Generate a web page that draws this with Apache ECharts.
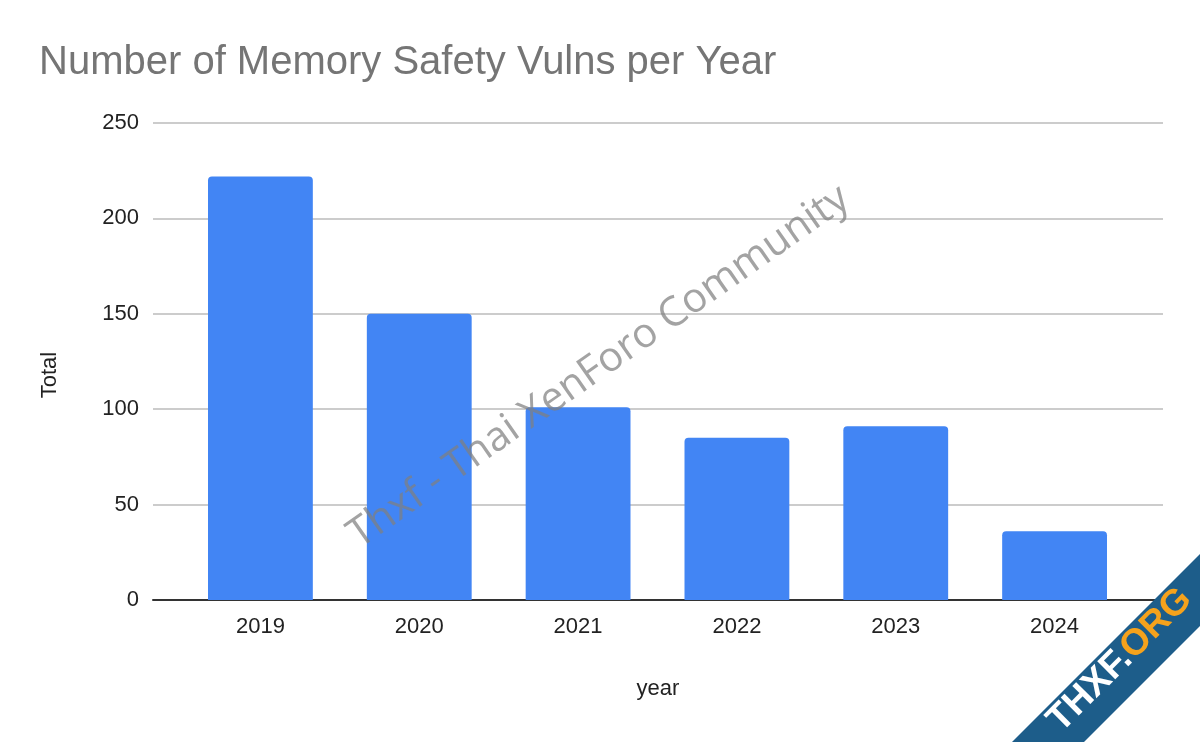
<!DOCTYPE html>
<html>
<head>
<meta charset="utf-8">
<script src="https://cdn.jsdelivr.net/npm/echarts@6/dist/echarts.min.js"></script>
<style>
  html, body { margin: 0; padding: 0; background: #fff; }
  #chart { width: 1200px; height: 742px; }
</style>
</head>
<body>
<div id="chart"></div>
<script>
// Memory safety vulnerabilities counted per year
const years = ['2019', '2020', '2021', '2022', '2023', '2024'];
const totals = [222, 150, 101, 85, 91, 36];
const yTicks = { min: 0, max: 250, step: 50 };

const chart = echarts.init(document.getElementById('chart'));
const FONT = '"Liberation Sans", Arial, sans-serif';
const TOP = 123, BOTTOM = 142;

chart.setOption({
  backgroundColor: '#ffffff',
  animation: false,
  title: {
    text: 'Number of Memory Safety Vulns per Year',
    left: 34, top: 38,
    textStyle: { fontFamily: FONT, fontSize: 40, fontWeight: 'normal', color: '#757575' }
  },
  grid: [
    // wide frame: gridlines and baseline
    { left: 153, right: 37, top: TOP, bottom: BOTTOM },
    // inner band holding the bars
    { left: 181, right: 66, top: TOP, bottom: BOTTOM }
  ],
  xAxis: [
    {
      gridIndex: 0, type: 'value', min: 0, max: 1,
      axisLine: { show: true, onZero: false, lineStyle: { color: '#333333', width: 2 } },
      axisTick: { show: false }, axisLabel: { show: false }, splitLine: { show: false },
      name: 'year', nameLocation: 'middle', nameGap: 78,
      nameTextStyle: { fontFamily: FONT, fontSize: 22, color: '#222222' }
    },
    {
      gridIndex: 1, type: 'category', data: years,
      axisLine: { show: false }, axisTick: { show: false },
      axisLabel: { fontFamily: FONT, fontSize: 22, color: '#222222', margin: 16 }
    }
  ],
  yAxis: [
    {
      gridIndex: 0, type: 'value', min: yTicks.min, max: yTicks.max, interval: yTicks.step,
      axisLine: { show: false }, axisTick: { show: false },
      axisLabel: { fontFamily: FONT, fontSize: 22, color: '#222222', margin: 14 },
      splitLine: { lineStyle: { color: '#cccccc', width: 2 } }
    },
    {
      gridIndex: 1, type: 'value', min: yTicks.min, max: yTicks.max, interval: yTicks.step,
      show: false
    }
  ],
  series: [
    {
      type: 'bar', xAxisIndex: 1, yAxisIndex: 1,
      data: totals, barWidth: '66%',
      itemStyle: { color: '#4285f4', borderRadius: [4, 4, 0, 0] },
      z: 3
    }
  ],
  graphic: [
    // vertical axis title
    {
      type: 'text', x: 50, y: 375, rotation: Math.PI / 2, z: 5,
      style: {
        text: 'Total', font: '22px "Liberation Sans", Arial, sans-serif',
        fill: '#222222', align: 'center', verticalAlign: 'middle'
      }
    },
    {
      type: 'text', x: 599, y: 367, rotation: 35 * Math.PI / 180, z: 10,
      style: {
        text: 'Thxf - Thai XenForo Community',
        font: '41px "Open Sans", "DejaVu Sans", sans-serif',
        fill: 'rgba(128,128,128,0.72)', align: 'center', verticalAlign: 'middle'
      }
    },
    {
      type: 'polygon', z: 10,
      shape: { points: [[1012, 742], [1200, 554], [1200, 626], [1084, 742]] },
      style: { fill: '#1d5d8a' }
    },
    {
      type: 'text', x: 1120, y: 660, rotation: 45 * Math.PI / 180, z: 11,
      style: {
        rich: {
          a: { fill: '#ffffff', font: 'bold 37px "Liberation Sans", Arial, sans-serif' },
          b: { fill: '#f5a21c', font: 'bold 37px "Liberation Sans", Arial, sans-serif' }
        },
        text: '{a|THXF.}{b|ORG}', align: 'center', verticalAlign: 'middle'
      }
    }
  ]
});
</script>
</body>
</html>
